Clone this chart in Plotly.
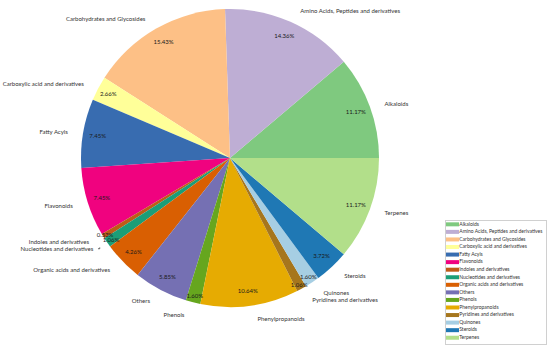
import math
import plotly.graph_objects as go

categories = ["Alkaloids", "Amino Acids, Peptides and derivatives", "Carbohydrates and Glycosides",
              "Carboxylic acid and derivatives", "Fatty Acyls", "Flavonoids", "Indoles and derivatives",
              "Nucleotides and derivatives", "Organic acids and derivatives", "Others", "Phenols",
              "Phenylpropanoids", "Pyridines and derivatives", "Quinones", "Steroids", "Terpenes"]
counts = [21, 27, 29, 5, 14, 14, 1, 2, 8, 11, 3, 20, 2, 3, 7, 21]
colors = ["#7fc97f", "#beaed4", "#fdc086", "#ffff99", "#386cb0", "#f0027f", "#bf5b17", "#1b9e77",
          "#d95f02", "#7570b3", "#66a61e", "#e6ab02", "#a6761d", "#a6cee3", "#1f78b4", "#b2df8a"]

FONT = "Lato"
W, H = 550, 350
total = sum(counts)
# first slice starts at 3 o'clock going counterclockwise (plotly anchors the END of the first slice)
rot = 90 - 360 * counts[0] / total

CX, CY, R = 230, 158, 149
R2 = 158  # label ring radius


def domain(r):
    return dict(x=[(CX - r) / W, (CX + r) / W], y=[max(0, 1 - (CY + r) / H), min(1, 1 - (CY - r) / H)])


# pad each outside label on the side facing the pie (matplotlib puts labels at 1.1 r)
pad = "\u00a0" * 3
templates = []
cum = 0
for c in counts:
    mid = 2 * math.pi * (cum + c / 2) / total
    cum += c
    templates.append(pad + "%{label}" if math.cos(mid) >= 0 else "%{label}" + pad)

transparent = ["rgba(0,0,0,0)"] * len(categories)
common = dict(labels=categories, values=counts, sort=False, direction="counterclockwise",
              rotation=rot, showlegend=False)

fig = go.Figure()
# coloured pie
fig.add_trace(go.Pie(**common, marker=dict(colors=colors, line=dict(width=0)),
                     textinfo="none", domain=domain(R), hoverinfo="label+percent"))
# percentages placed in an outer ring (~0.9 r)
fig.add_trace(go.Pie(**common, hole=0.8, marker=dict(colors=transparent, line=dict(width=0)),
                     textinfo="percent", texttemplate="%{percent:.2%}", textposition="inside",
                     insidetextorientation="horizontal",
                     textfont=dict(family=FONT, size=6, color="#1a1a1a"),
                     domain=domain(R), hoverinfo="skip"))
# category labels outside
fig.add_trace(go.Pie(**common, marker=dict(colors=transparent, line=dict(width=0)),
                     textinfo="label", texttemplate=templates, textposition="outside",
                     textfont=dict(family=FONT, size=6, color="#333"),
                     domain=domain(R2), hoverinfo="skip"))

idx = list(range(len(categories)))
fig.add_trace(go.Scatter(
    x=[0] * len(categories), y=idx, mode="markers+text", text=categories,
    textposition="middle right",
    textfont=dict(family=FONT, size=5, color="#333"),
    marker=dict(symbol="line-ew", size=10, line=dict(width=4, color=colors)),
    xaxis="x2", yaxis="y2", showlegend=False, hoverinfo="text", cliponaxis=False))

fig.update_layout(
    width=W, height=H, margin=dict(l=0, r=0, t=0, b=0, autoexpand=False),
    showlegend=False,
    paper_bgcolor="white", plot_bgcolor="white",
    uniformtext=dict(minsize=6, mode="show"),
    xaxis2=dict(domain=[446 / W, 546 / W], range=[-6, 94], showgrid=False, zeroline=False,
                showticklabels=False, ticks="", showline=True, mirror=True, linecolor="#d0d0d0",
                linewidth=1, fixedrange=True, anchor="y2", automargin=False),
    yaxis2=dict(domain=[1 - 344 / H, 1 - 221 / H], range=[15.83, -0.44], showgrid=False, zeroline=False,
                showticklabels=False, ticks="", showline=True, mirror=True, linecolor="#d0d0d0",
                linewidth=1, fixedrange=True, anchor="x2", automargin=False),
)
fig.write_html("out.html", config={"displayModeBar": False},
               post_script="document.body.style.margin='0';document.body.style.overflow='hidden';")
